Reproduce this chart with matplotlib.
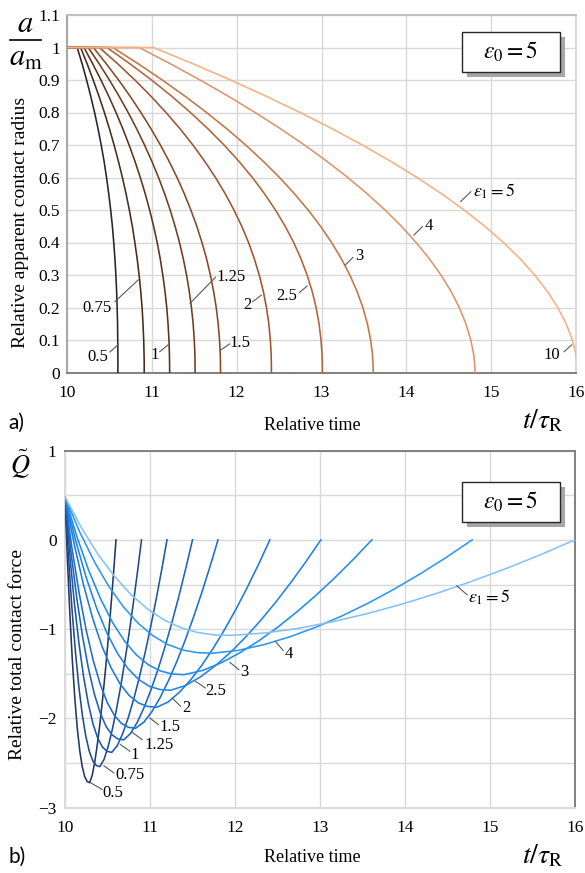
import matplotlib
matplotlib.use('Agg')
import matplotlib.pyplot as plt
from matplotlib.patches import Rectangle
from matplotlib.lines import Line2D

plt.rcParams['font.family'] = ['Liberation Serif', 'DejaVu Serif']
plt.rcParams['mathtext.fontset'] = 'stix'

# ---------------- data ----------------
eps_labels = ['0.5', '0.75', '1', '1.25', '1.5', '2', '2.5', '3', '4', '5']

# (a) relative contact radius: time at which each curve crosses these radius levels
a_levels = [1.0, 0.95, 0.9, 0.85, 0.8, 0.75, 0.7, 0.65, 0.6, 0.55, 0.5,
            0.45, 0.4, 0.35, 0.3, 0.25, 0.2, 0.15, 0.1, 0.06, 0.03, 0.0]
radius_t_05 = [10.12, 10.178, 10.231, 10.280, 10.325, 10.366, 10.403, 10.437, 10.466, 10.492, 10.515,
               10.535, 10.551, 10.565, 10.576, 10.585, 10.591, 10.596, 10.598, 10.5996, 10.600, 10.600]
radius_t_075 = [10.16, 10.237, 10.309, 10.377, 10.441, 10.500, 10.555, 10.606, 10.653, 10.696, 10.735,
                10.770, 10.800, 10.827, 10.850, 10.869, 10.885, 10.896, 10.904, 10.908, 10.910, 10.91]
radius_t_1 = [10.20, 10.303, 10.400, 10.492, 10.578, 10.658, 10.732, 10.801, 10.864, 10.922, 10.974,
              11.021, 11.063, 11.099, 11.129, 11.155, 11.176, 11.191, 11.202, 11.207, 11.209, 11.21]
radius_t_125 = [10.25, 10.379, 10.500, 10.614, 10.721, 10.821, 10.914, 11.000, 11.079, 11.151, 11.216,
                11.274, 11.326, 11.371, 11.409, 11.441, 11.467, 11.487, 11.500, 11.507, 11.509, 11.51]
radius_t_15 = [10.31, 10.463, 10.608, 10.744, 10.871, 10.990, 11.101, 11.203, 11.297, 11.383, 11.460,
               11.530, 11.591, 11.645, 11.690, 11.728, 11.759, 11.782, 11.798, 11.806, 11.809, 11.81]
radius_t_2 = [10.38, 10.597, 10.800, 10.990, 11.167, 11.332, 11.484, 11.623, 11.750, 11.865, 11.968,
              12.060, 12.140, 12.208, 12.266, 12.314, 12.351, 12.379, 12.397, 12.406, 12.409, 12.41]
radius_t_25 = [10.47, 10.741, 10.996, 11.234, 11.455, 11.661, 11.851, 12.026, 12.185, 12.328, 12.457,
               12.572, 12.672, 12.758, 12.830, 12.890, 12.936, 12.971, 12.994, 13.005, 13.009, 13.01]
radius_t_3 = [10.54, 10.839, 11.123, 11.392, 11.645, 11.883, 12.106, 12.313, 12.505, 12.681, 12.843,
              12.988, 13.119, 13.234, 13.334, 13.418, 13.487, 13.541, 13.579, 13.599, 13.607, 13.61]
radius_t_4 = [10.85, 11.218, 11.568, 11.902, 12.218, 12.517, 12.799, 13.063, 13.310, 13.538, 13.749,
              13.942, 14.115, 14.271, 14.408, 14.526, 14.624, 14.702, 14.760, 14.791, 14.805, 14.81]
radius_t_5 = [11.02, 11.485, 11.927, 12.348, 12.748, 13.125, 13.481, 13.815, 14.126, 14.415, 14.681,
              14.924, 15.143, 15.340, 15.513, 15.661, 15.785, 15.884, 15.957, 15.996, 16.014, 16.02]
radius_t = [radius_t_05, radius_t_075, radius_t_1, radius_t_125, radius_t_15,
            radius_t_2, radius_t_25, radius_t_3, radius_t_4, radius_t_5]

# (b) relative total contact force: (time, force) points
force_t_05 = [10, 10.029, 10.058, 10.087, 10.116, 10.145, 10.174, 10.203, 10.232, 10.261, 10.29,
              10.321, 10.352, 10.383, 10.414, 10.445, 10.476, 10.507, 10.538, 10.569, 10.60]
force_q_05 = [0.48, -0.235, -0.847, -1.360, -1.781, -2.114, -2.365, -2.542, -2.653, -2.707, -2.72,
              -2.634, -2.477, -2.273, -2.032, -1.758, -1.456, -1.127, -0.774, -0.398, 0]
force_t_075 = [10, 10.041, 10.082, 10.123, 10.164, 10.205, 10.246, 10.287, 10.328, 10.369, 10.41,
               10.459, 10.508, 10.557, 10.606, 10.655, 10.704, 10.753, 10.802, 10.851, 10.90]
force_q_075 = [0.48, -0.195, -0.772, -1.257, -1.654, -1.968, -2.205, -2.372, -2.477, -2.528, -2.54,
               -2.460, -2.313, -2.123, -1.897, -1.642, -1.359, -1.052, -0.723, -0.371, 0]
force_t_1 = [10, 10.055, 10.11, 10.165, 10.22, 10.275, 10.33, 10.385, 10.44, 10.495, 10.55,
             10.615, 10.68, 10.745, 10.81, 10.875, 10.94, 11.005, 11.07, 11.135, 11.20]
force_q_1 = [0.48, -0.159, -0.706, -1.165, -1.541, -1.838, -2.063, -2.221, -2.320, -2.369, -2.38,
             -2.305, -2.167, -1.989, -1.778, -1.538, -1.274, -0.986, -0.677, -0.348, 0]
force_t_125 = [10, 10.069, 10.138, 10.207, 10.276, 10.345, 10.414, 10.483, 10.552, 10.621, 10.69,
               10.771, 10.852, 10.933, 11.014, 11.095, 11.176, 11.257, 11.338, 11.419, 11.50]
force_q_125 = [0.48, -0.128, -0.648, -1.084, -1.442, -1.725, -1.938, -2.089, -2.183, -2.229, -2.24,
               -2.169, -2.040, -1.872, -1.673, -1.448, -1.199, -0.928, -0.637, -0.327, 0]
force_t_15 = [10, 10.083, 10.166, 10.249, 10.332, 10.415, 10.498, 10.581, 10.664, 10.747, 10.83,
              10.927, 11.024, 11.121, 11.218, 11.315, 11.412, 11.509, 11.606, 11.703, 11.80]
force_q_15 = [0.48, -0.099, -0.594, -1.010, -1.350, -1.619, -1.823, -1.966, -2.056, -2.100, -2.11,
              -2.043, -1.921, -1.763, -1.576, -1.364, -1.129, -0.874, -0.600, -0.308, 0]
force_t_2 = [10, 10.108, 10.216, 10.324, 10.432, 10.54, 10.648, 10.756, 10.864, 10.972, 11.08,
             11.213, 11.346, 11.479, 11.612, 11.745, 11.878, 12.011, 12.144, 12.277, 12.41]
force_q_2 = [0.48, -0.046, -0.497, -0.874, -1.184, -1.429, -1.614, -1.744, -1.826, -1.866, -1.875,
             -1.816, -1.707, -1.567, -1.401, -1.212, -1.004, -0.777, -0.533, -0.274, 0]
force_t_25 = [10, 10.124, 10.248, 10.372, 10.496, 10.62, 10.744, 10.868, 10.992, 11.116, 11.24,
              11.417, 11.594, 11.771, 11.948, 12.125, 12.302, 12.479, 12.656, 12.833, 13.01]
force_q_25 = [0.48, -0.004, -0.418, -0.765, -1.050, -1.275, -1.445, -1.565, -1.640, -1.676, -1.685,
              -1.632, -1.534, -1.408, -1.259, -1.089, -0.902, -0.698, -0.479, -0.246, 0]
force_t_3 = [10, 10.14, 10.28, 10.42, 10.56, 10.70, 10.84, 10.98, 11.12, 11.26, 11.40,
             11.621, 11.842, 12.063, 12.284, 12.505, 12.726, 12.947, 13.168, 13.389, 13.61]
force_q_3 = [0.48, 0.035, -0.345, -0.664, -0.926, -1.133, -1.289, -1.399, -1.468, -1.502, -1.51,
             -1.462, -1.375, -1.262, -1.128, -0.976, -0.808, -0.626, -0.430, -0.221, 0]
force_t_4 = [10, 10.173, 10.346, 10.519, 10.692, 10.865, 11.038, 11.211, 11.384, 11.557, 11.73,
             12.036, 12.342, 12.648, 12.954, 13.26, 13.566, 13.872, 14.178, 14.484, 14.79]
force_q_4 = [0.48, 0.089, -0.246, -0.526, -0.756, -0.938, -1.076, -1.173, -1.233, -1.263, -1.27,
             -1.238, -1.173, -1.085, -0.977, -0.851, -0.709, -0.552, -0.381, -0.197, 0]
force_t_5 = [10, 10.195, 10.389, 10.584, 10.779, 10.974, 11.168, 11.363, 11.558, 11.752, 11.947,
             12.352, 12.758, 13.163, 13.568, 13.974, 14.379, 14.784, 15.189, 15.595, 16.0]
force_q_5 = [0.48, 0.134, -0.163, -0.411, -0.615, -0.776, -0.898, -0.984, -1.037, -1.064, -1.07,
             -1.043, -0.989, -0.914, -0.823, -0.717, -0.597, -0.465, -0.321, -0.166, 0]
force_t = [force_t_05, force_t_075, force_t_1, force_t_125, force_t_15,
           force_t_2, force_t_25, force_t_3, force_t_4, force_t_5]
force_q = [force_q_05, force_q_075, force_q_1, force_q_125, force_q_15,
           force_q_2, force_q_25, force_q_3, force_q_4, force_q_5]

x_ticks = [10, 11, 12, 13, 14, 15, 16]
a_ticks = [0, 0.1, 0.2, 0.3, 0.4, 0.5, 0.6, 0.7, 0.8, 0.9, 1, 1.1]
a_tick_labels = ['0', '0.1', '0.2', '0.3', '0.4', '0.5', '0.6', '0.7', '0.8', '0.9', '1', '1.1']
q_grid = [-3, -2.5, -2, -1.5, -1, -0.5, 0, 0.5, 1]
q_tick_labels = ['\u22123', '', '\u22122', '', '\u22121', '', '0', '', '1']

# ---------------- styles ----------------
top_colors = ['#262626', '#4a2a18', '#5e3219', '#733c1f', '#874826',
              '#9c5530', '#b0643a', '#c47546', '#dd9468', '#f4b183']
bot_colors = ['#1f3864', '#1f4a8c', '#1d56a8', '#1b62c0', '#1a6ed4',
              '#1a7ae2', '#1e84ea', '#1f8cf0', '#2e97f2', '#86c1f6']

W, H = 585, 873
fig = plt.figure(figsize=(W / 100, H / 100), dpi=100)


def fx(px):
    return px / W


def fy(py):
    return 1 - py / H


ax1 = fig.add_axes([fx(67), fy(372.5), fx(576) - fx(67), fy(15) - fy(372.5)])
ax2 = fig.add_axes([fx(65), fy(807.7), fx(575) - fx(65), fy(450.6) - fy(807.7)])

grid_c = '#d9d9d9'
tick_fs = 12.5
lab_fs = 12

# ---- panel a ----
for k, ts in enumerate(radius_t):
    xs = [10.0] + ts
    ys = [1.0] + a_levels
    ax1.plot(xs, ys, color=top_colors[k], lw=1.15, solid_joinstyle='round', zorder=3)
ax1.set_xlim(10, 16)
ax1.set_ylim(0, 1.1)
ax1.set_xticks(x_ticks)
ax1.set_xticklabels([str(v) for v in x_ticks])
ax1.set_yticks(a_ticks)
ax1.set_yticklabels(a_tick_labels)
ax1.grid(True, color=grid_c, lw=1.0, zorder=0)
ax1.tick_params(length=0, labelsize=tick_fs)
ax1.tick_params(axis='x', pad=9)
ax1.tick_params(axis='y', pad=5)
ax1.spines['left'].set_color('#a6a6a6')
ax1.spines['top'].set_color('#bfbfbf')
ax1.spines['bottom'].set_color('#808080')
ax1.spines['right'].set_color(grid_c)
for s in ax1.spines.values():
    s.set_linewidth(1.4)

top_lab = [
    ('0.5', 10.365, 0.048, 'center', (10.506, 0.063, 10.60, 0.085)),
    ('0.75', 10.35, 0.197, 'center', (10.565, 0.218, 10.84, 0.285)),
    ('1', 11.035, 0.054, 'center', (11.094, 0.064, 11.19, 0.085)),
    ('1.25', 11.94, 0.295, 'center', (11.75, 0.293, 11.45, 0.213)),
    ('1.5', 12.035, 0.092, 'center', (11.918, 0.088, 11.81, 0.069)),
    ('2', 12.125, 0.208, 'center', (12.19, 0.218, 12.29, 0.238)),
    ('2.5', 12.59, 0.236, 'center', (12.74, 0.246, 12.83, 0.266)),
    ('3', 13.44, 0.358, 'center', (13.37, 0.354, 13.28, 0.331)),
    ('4', 14.26, 0.451, 'center', (14.19, 0.449, 14.09, 0.423)),
    (r'$\epsilon_1 = 5$', 14.78, 0.558, 'left', (14.76, 0.556, 14.64, 0.526)),
    ('10', 15.72, 0.054, 'center', (15.86, 0.064, 15.95, 0.085)),
]
for txt, tx, ty, ha, (x0, y0, x1, y1) in top_lab:
    ax1.plot([x0, x1], [y0, y1], color='#595959', lw=0.8, zorder=4, clip_on=False)
    ax1.text(tx, ty, txt, ha=ha, va='center', fontsize=lab_fs + (1 if '$' in txt else 0), zorder=5)

# ---- panel b ----
for k in range(len(force_t)):
    ax2.plot(force_t[k], force_q[k], color=bot_colors[k], lw=1.15, solid_joinstyle='round', zorder=3)
ax2.set_xlim(10, 16)
ax2.set_ylim(-3, 1)
ax2.set_xticks(x_ticks)
ax2.set_xticklabels([str(v) for v in x_ticks])
ax2.set_yticks(q_grid)
ax2.set_yticklabels(q_tick_labels)
ax2.grid(True, color=grid_c, lw=1.0, zorder=0)
ax2.tick_params(length=0, labelsize=tick_fs)
ax2.tick_params(axis='x', pad=9)
ax2.tick_params(axis='y', pad=6)
ax2.spines['left'].set_color(grid_c)
ax2.spines['bottom'].set_color(grid_c)
ax2.spines['top'].set_color('#808080')
ax2.spines['right'].set_color('#808080')
for s in ax2.spines.values():
    s.set_linewidth(1.4)

bot_lab = [
    ('0.5', 10.567, -2.84, 'center', (10.437, -2.796, 10.30, -2.72)),
    ('0.75', 10.77, -2.63, 'center', (10.575, -2.61, 10.457, -2.53)),
    ('1', 10.818, -2.405, 'center', (10.763, -2.368, 10.653, -2.293)),
    ('1.25', 11.104, -2.293, 'center', (10.907, -2.237, 10.79, -2.155)),
    ('1.5', 11.234, -2.095, 'center', (11.10, -2.07, 10.998, -1.995)),
    ('2', 11.43, -1.883, 'center', (11.36, -1.864, 11.26, -1.771)),
    ('2.5', 11.77, -1.696, 'center', (11.653, -1.659, 11.535, -1.585)),
    ('3', 12.11, -1.484, 'center', (12.045, -1.454, 11.94, -1.372)),
    ('4', 12.633, -1.275, 'center', (12.566, -1.238, 12.476, -1.137)),
    (r'$\epsilon_1 = 5$', 14.745, -0.641, 'left', (14.73, -0.615, 14.61, -0.515)),
]
for txt, tx, ty, ha, (x0, y0, x1, y1) in bot_lab:
    ax2.plot([x0, x1], [y0, y1], color='#595959', lw=0.8, zorder=4, clip_on=False)
    ax2.text(tx, ty, txt, ha=ha, va='center', fontsize=lab_fs + (1 if '$' in txt else 0), zorder=5)

# ---- epsilon_0 boxes ----
for ax, (bx0, by0, bx1, by1), (ax0, ay0, ax1_, ay1) in [
        (ax1, (462, 32, 560, 72), (67, 15, 576, 372.5)),
        (ax2, (462, 482, 560, 522), (65, 450.6, 575, 807.7))]:
    aw, ah = ax1_ - ax0, ay1 - ay0
    x0 = (bx0 - ax0) / aw
    w = (bx1 - bx0) / aw
    y0 = (ay1 - by1) / ah
    h = (by1 - by0) / ah
    ax.add_patch(Rectangle((x0 + 5 / aw, y0 - 5 / ah), w, h, transform=ax.transAxes,
                           facecolor='#a6a6a6', edgecolor='none', zorder=6, clip_on=False))
    ax.add_patch(Rectangle((x0, y0), w, h, transform=ax.transAxes,
                           facecolor='white', edgecolor='#262626', lw=1.0, zorder=7, clip_on=False))
    ax.text(x0 + w / 2, y0 + h / 2, r'$\epsilon_0 = 5$', transform=ax.transAxes,
            ha='center', va='center', fontsize=17, zorder=8)

# ---- axis titles ----
fig.text(fx(21), fy(222), 'Relative apparent contact radius', rotation=90,
         ha='center', va='center', fontsize=14)
fig.text(fx(25.5), fy(25), r'$a$', ha='center', va='center', fontsize=22)
fig.add_artist(Line2D([fx(10), fx(41)], [fy(40), fy(40)], color='black', lw=1.2))
fig.text(fx(25.5), fy(58), r'$a_\mathrm{m}$', ha='center', va='center', fontsize=22)
fig.text(fx(312), fy(425), 'Relative time', ha='center', va='center', fontsize=13)
fig.text(fx(543), fy(421), r'$t/\tau_\mathrm{R}$', ha='center', va='center', fontsize=20)
fig.text(fx(8), fy(423), 'a)', ha='left', va='center', fontsize=15, family=['Lato', 'DejaVu Sans'])

fig.text(fx(18), fy(655), 'Relative total contact force', rotation=90,
         ha='center', va='center', fontsize=14)
fig.text(fx(20), fy(464), r'$\tilde{Q}$', ha='center', va='center', fontsize=19)
fig.text(fx(312), fy(858), 'Relative time', ha='center', va='center', fontsize=13)
fig.text(fx(543), fy(856), r'$t/\tau_\mathrm{R}$', ha='center', va='center', fontsize=20)
fig.text(fx(8), fy(857), 'b)', ha='left', va='center', fontsize=15, family=['Lato', 'DejaVu Sans'])

fig.savefig('out.png', dpi=100)
